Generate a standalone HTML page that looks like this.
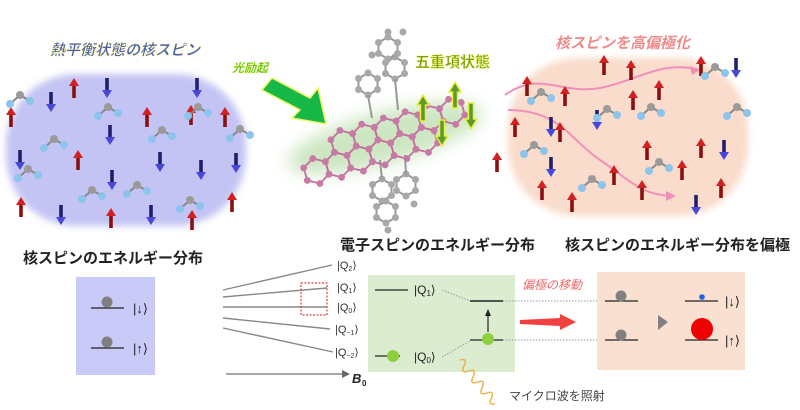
<!DOCTYPE html>
<html><head><meta charset="utf-8"><style>
body{margin:0;background:#fff}
svg{display:block}
text{font-family:"Liberation Sans","Noto Sans CJK JP",sans-serif}
</style></head><body>
<svg width="800" height="410" viewBox="0 0 800 410" xmlns="http://www.w3.org/2000/svg">
<defs>
<filter id="bl" x="-20%" y="-20%" width="140%" height="140%"><feGaussianBlur stdDeviation="3.5"/></filter>
<filter id="bl2" x="-20%" y="-40%" width="140%" height="180%"><feGaussianBlur stdDeviation="8"/></filter>
<g id="up"><rect x="-1.8" y="6" width="3.6" height="14" fill="#8a1010"/><polygon points="0,0 -5,8 5,8" fill="#d02020"/></g>
<g id="dn"><rect x="-1.8" y="0" width="3.6" height="14" fill="#20206a"/><polygon points="0,20 -5,12 5,12" fill="#4848d8"/></g>
<g id="mol"><polyline points="-10,6 0,-3 10,3" fill="none" stroke="#888" stroke-width="2"/><circle cx="-10" cy="6" r="4" fill="#8cc4ec"/><circle cx="10" cy="3" r="4" fill="#8cc4ec"/><circle cx="0" cy="-3" r="4" fill="#9a9a9a"/></g>
<g id="gup"><polygon points="0,0 -6,10 -2.5,10 -2.5,26 2.5,26 2.5,10 6,10" fill="#5c9a2c" stroke="#e8f040" stroke-width="1.5"/></g>
<g id="hex"><polygon points="0,-13 11.3,-6.5 11.3,6.5 0,13 -11.3,6.5 -11.3,-6.5" fill="none" stroke="#c46ea0" stroke-width="1.8"/>
<circle cx="0" cy="-13" r="3.4" fill="#c87aa6"/><circle cx="11.3" cy="-6.5" r="3.4" fill="#c87aa6"/><circle cx="11.3" cy="6.5" r="3.4" fill="#c87aa6"/><circle cx="0" cy="13" r="3.4" fill="#c87aa6"/><circle cx="-11.3" cy="6.5" r="3.4" fill="#c87aa6"/><circle cx="-11.3" cy="-6.5" r="3.4" fill="#c87aa6"/></g>
<g id="ghex"><polygon points="0,-11 9.5,-5.5 9.5,5.5 0,11 -9.5,5.5 -9.5,-5.5" fill="none" stroke="#999" stroke-width="2"/>
<circle cx="0" cy="-11" r="3.5" fill="#a8a8a8"/><circle cx="9.5" cy="-5.5" r="3.5" fill="#a8a8a8"/><circle cx="9.5" cy="5.5" r="3.5" fill="#a8a8a8"/><circle cx="0" cy="11" r="3.5" fill="#a8a8a8"/><circle cx="-9.5" cy="5.5" r="3.5" fill="#a8a8a8"/><circle cx="-9.5" cy="-5.5" r="3.5" fill="#a8a8a8"/></g>
</defs>

<rect x="6" y="74" width="240" height="152" rx="70" fill="#c4c4f4" filter="url(#bl)"/>
<rect x="508" y="58" width="240" height="158" rx="70" fill="#f9dccb" filter="url(#bl)"/>

<text x="50" y="55" font-size="15" font-style="italic" font-weight="bold" fill="#4a60b8" stroke="#fff6a0" stroke-width="0.4">熱平衡状態の核スピン</text>
<text x="555" y="48" font-size="15" font-style="italic" font-weight="bold" fill="#f08a8a">核スピンを高偏極化</text>

<use href="#up" x="74" y="78"/><use href="#up" x="11" y="107"/><use href="#up" x="147" y="107"/><use href="#up" x="191" y="105"/><use href="#up" x="225" y="107"/><use href="#up" x="78" y="150"/><use href="#up" x="21" y="197"/><use href="#up" x="111" y="208"/><use href="#up" x="192" y="210"/><use href="#up" x="232" y="192"/>
<use href="#dn" x="51" y="92"/><use href="#dn" x="107" y="78"/><use href="#dn" x="197" y="78"/><use href="#dn" x="110" y="125"/><use href="#dn" x="20" y="150"/><use href="#dn" x="160" y="152"/><use href="#dn" x="201" y="160"/><use href="#dn" x="236" y="153"/><use href="#dn" x="112" y="170"/><use href="#dn" x="61" y="205"/><use href="#dn" x="151" y="205"/>
<use href="#mol" x="20" y="98"/><use href="#mol" x="108" y="110"/><use href="#mol" x="162" y="133"/><use href="#mol" x="28" y="172"/><use href="#mol" x="92" y="193"/><use href="#mol" x="137" y="188"/><use href="#mol" x="190" y="203"/><use href="#mol" x="240" y="132"/><use href="#mol" x="198" y="110"/><use href="#mol" x="54" y="142"/>

<path d="M505,95 C540,70 560,95 600,88 C640,80 660,60 700,70" fill="none" stroke="#f090b8" stroke-width="2"/>
<polygon points="700,70 690,66 692,75" fill="#f090b8"/>
<path d="M508,110 C560,110 570,140 600,160 C630,180 640,195 672,196" fill="none" stroke="#f090b8" stroke-width="2"/>
<polygon points="676,196 666,191 666,201" fill="#f090b8"/>
<use href="#up" x="604" y="55"/><use href="#up" x="527" y="76"/><use href="#up" x="565" y="86"/><use href="#up" x="631" y="60"/><use href="#up" x="659" y="80"/><use href="#up" x="515" y="117"/><use href="#up" x="560" y="122"/><use href="#up" x="647" y="140"/><use href="#up" x="701" y="138"/><use href="#up" x="614" y="165"/><use href="#up" x="497" y="152"/><use href="#up" x="682" y="160"/><use href="#up" x="542" y="180"/><use href="#up" x="572" y="192"/><use href="#up" x="642" y="180"/><use href="#up" x="721" y="178"/><use href="#up" x="701" y="56"/><use href="#up" x="633" y="90"/>
<use href="#dn" x="736" y="58"/><use href="#dn" x="597" y="110"/><use href="#dn" x="551" y="117"/><use href="#dn" x="724" y="140"/><use href="#dn" x="551" y="157"/><use href="#dn" x="696" y="195"/>
<use href="#mol" x="541" y="95"/><use href="#mol" x="607" y="112"/><use href="#mol" x="651" y="110"/><use href="#mol" x="534" y="148"/><use href="#mol" x="659" y="165"/><use href="#mol" x="592" y="182"/><use href="#mol" x="715" y="70"/><use href="#mol" x="737" y="110"/>

<ellipse cx="385" cy="138" rx="100" ry="26" fill="#b8dca8" opacity="0.7" filter="url(#bl2)" transform="rotate(-15 385 138)"/>
<g>
<use href="#ghex" x="368" y="84"/><use href="#ghex" x="395" y="68"/><use href="#ghex" x="388" y="48"/>
<line x1="368" y1="95" x2="372" y2="118" stroke="#999" stroke-width="2"/><line x1="395" y1="79" x2="398" y2="110" stroke="#999" stroke-width="2"/>
<circle cx="372" cy="55" r="3.5" fill="#a8a8a8"/><circle cx="388" cy="32" r="3.5" fill="#a8a8a8"/><circle cx="403" cy="32" r="3.5" fill="#a8a8a8"/>
<use href="#ghex" x="382" y="190"/><use href="#ghex" x="406" y="185"/><use href="#ghex" x="386" y="212"/>
<line x1="380" y1="160" x2="382" y2="180" stroke="#999" stroke-width="2"/><line x1="405" y1="155" x2="406" y2="175" stroke="#999" stroke-width="2"/>
<circle cx="388" cy="230" r="3.5" fill="#a8a8a8"/><circle cx="414" cy="204" r="3.5" fill="#a8a8a8"/>
</g>
<g transform="rotate(-16 388 138)">
<use href="#hex" x="310" y="150"/><use href="#hex" x="332.6" y="150"/><use href="#hex" x="355.2" y="150"/><use href="#hex" x="377.8" y="150"/><use href="#hex" x="400.4" y="150"/><use href="#hex" x="423" y="150"/>
<use href="#hex" x="343.9" y="130.5"/><use href="#hex" x="366.5" y="130.5"/><use href="#hex" x="389.1" y="130.5"/><use href="#hex" x="411.7" y="130.5"/><use href="#hex" x="434.3" y="130.5"/><use href="#hex" x="456.9" y="130.5"/>
</g>
<use href="#gup" x="423" y="95"/><use href="#gup" x="442" y="120" transform="rotate(180 442 120) translate(0,-26)"/>
<use href="#gup" x="455" y="82"/><use href="#gup" x="471" y="103" transform="rotate(180 471 103) translate(0,-26)"/>
<text x="415" y="67" font-size="15" font-weight="bold" fill="#7a9a10" stroke="#eef870" stroke-width="0.5">五重項状態</text>
<polygon points="272,78 310,98 318,88 326,124 292,118 300,110 262,90" fill="#18b848" stroke="#f0f860" stroke-width="1.5"/>
<text x="232" y="72" font-size="12" font-style="italic" font-weight="bold" fill="#5ac018" stroke="#f0f860" stroke-width="0.3">光励起</text>

<text x="23" y="263" font-size="15" font-weight="bold" fill="#222">核スピンのエネルギー分布</text>
<text x="340" y="250" font-size="15" font-weight="bold" fill="#222">電子スピンのエネルギー分布</text>
<text x="565" y="250" font-size="15" font-weight="bold" fill="#222">核スピンのエネルギー分布を偏極</text>

<rect x="76" y="277" width="79" height="98" fill="#cacaf8"/>
<line x1="91" y1="308" x2="124" y2="308" stroke="#222" stroke-width="1.3"/>
<line x1="91" y1="348" x2="124" y2="348" stroke="#222" stroke-width="1.3"/>
<circle cx="107" cy="302" r="5.5" fill="#808080"/><circle cx="107" cy="342" r="5.5" fill="#808080"/>
<text x="133" y="313" font-size="13" fill="#222">|↓⟩</text>
<text x="133" y="353" font-size="13" fill="#222">|↑⟩</text>

<g stroke="#888" stroke-width="1.4">
<line x1="223" y1="290" x2="332" y2="265"/>
<line x1="223" y1="297" x2="327" y2="288"/>
<line x1="223" y1="307" x2="327" y2="307"/>
<line x1="223" y1="318" x2="330" y2="329"/>
<line x1="223" y1="328" x2="333" y2="352"/>
<line x1="226" y1="374" x2="343" y2="374"/>
</g>
<polygon points="350,374 342,370 342,378" fill="#666"/>
<text x="352" y="383" font-size="13" font-weight="bold" font-style="italic" fill="#222">B</text>
<text x="362" y="386" font-size="8" font-weight="bold" fill="#222">0</text>
<rect x="301" y="283" width="26" height="32" fill="none" stroke="#e04040" stroke-width="1.2" stroke-dasharray="2,1.5"/>
<g font-size="11" fill="#333">
<text x="337" y="269">|Q<tspan font-size="7" dy="2">2</tspan><tspan dy="-2">⟩</tspan></text>
<text x="337" y="291">|Q<tspan font-size="7" dy="2">1</tspan><tspan dy="-2">⟩</tspan></text>
<text x="337" y="311">|Q<tspan font-size="7" dy="2">0</tspan><tspan dy="-2">⟩</tspan></text>
<text x="335" y="333">|Q<tspan font-size="7" dy="2">−1</tspan><tspan dy="-2">⟩</tspan></text>
<text x="335" y="356">|Q<tspan font-size="7" dy="2">−2</tspan><tspan dy="-2">⟩</tspan></text>
</g>
<rect x="368" y="275" width="147" height="97" fill="#dcecd0"/>
<line x1="375" y1="290" x2="408" y2="290" stroke="#222" stroke-width="1.3"/>
<line x1="375" y1="356" x2="400" y2="356" stroke="#222" stroke-width="1.3"/>
<circle cx="393" cy="356" r="6" fill="#8cd040"/>
<text x="414" y="294" font-size="12" fill="#222">|Q<tspan font-size="8" dy="2">1</tspan><tspan dy="-2">⟩</tspan></text>
<text x="414" y="361" font-size="12" fill="#222">|Q<tspan font-size="8" dy="2">0</tspan><tspan dy="-2">⟩</tspan></text>
<line x1="470" y1="301" x2="503" y2="301" stroke="#222" stroke-width="1.5"/>
<line x1="470" y1="340" x2="503" y2="340" stroke="#444" stroke-width="1.5"/>
<circle cx="488" cy="339" r="6" fill="#8cd040"/>
<line x1="488" y1="332" x2="488" y2="314" stroke="#222" stroke-width="1.2"/>
<polygon points="488,309 485,316 491,316" fill="#222"/>
<g stroke="#999" stroke-width="1" stroke-dasharray="1.5,1.5">
<line x1="442" y1="290" x2="470" y2="301"/><line x1="442" y1="357" x2="470" y2="341"/>
<line x1="503" y1="301" x2="605" y2="301"/><line x1="503" y1="340" x2="605" y2="340"/>
</g>
<path d="M460,360 q8,-2 4,6 q-4,8 5,5 q8,-3 4,6 q-4,8 5,5 q8,-3 4,6 q-4,8 5,5 q8,-3 4,6 q-3,6 4,5" fill="none" stroke="#eab040" stroke-width="1.4"/>
<text x="509" y="400" font-size="12" fill="#444">マイクロ波を照射</text>
<text x="522" y="289" font-size="12" font-style="italic" fill="#f06a6a">偏極の移動</text>
<polygon points="520,320 560,318 560,314 576,322 560,330 560,326 520,324" fill="#f04040"/>
<rect x="597" y="272" width="148" height="98" fill="#f9e0d0"/>
<line x1="605" y1="301" x2="638" y2="301" stroke="#222" stroke-width="1.3"/>
<line x1="605" y1="340" x2="638" y2="340" stroke="#222" stroke-width="1.3"/>
<circle cx="621" cy="296" r="5.5" fill="#808080"/><circle cx="621" cy="335" r="5.5" fill="#808080"/>
<polygon points="658,315 668,322 658,330" fill="#808080"/>
<line x1="685" y1="301" x2="718" y2="301" stroke="#222" stroke-width="1.3"/>
<line x1="685" y1="340" x2="718" y2="340" stroke="#222" stroke-width="1.3"/>
<circle cx="702" cy="297" r="2.8" fill="#2060e0"/>
<circle cx="702" cy="329" r="11" fill="#f00000"/>
<text x="725" y="306" font-size="13" fill="#222">|↓⟩</text>
<text x="725" y="345" font-size="13" fill="#222">|↑⟩</text>
</svg>
</body></html>
